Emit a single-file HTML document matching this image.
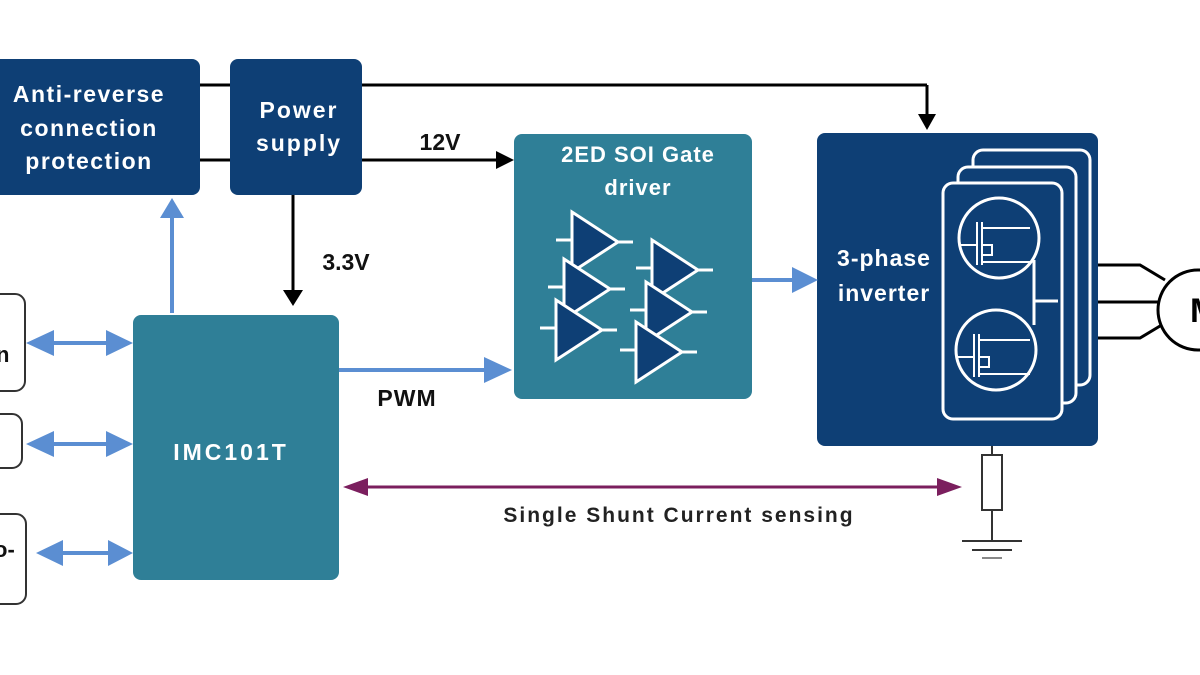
<!DOCTYPE html>
<html><head><meta charset="utf-8"><style>
html,body{margin:0;padding:0;background:#fff;width:1200px;height:675px;overflow:hidden}
svg{display:block}
text{font-family:"Liberation Sans",sans-serif;font-weight:bold}
</style></head><body>
<svg width="1200" height="675" viewBox="0 0 1200 675" xmlns="http://www.w3.org/2000/svg">
<!-- black lines -->
<g stroke="#000" stroke-width="3" fill="none">
<line x1="200" y1="85" x2="232" y2="85"/>
<line x1="362" y1="85" x2="927" y2="85"/>
<line x1="927" y1="85" x2="927" y2="118"/>
<line x1="200" y1="160" x2="232" y2="160"/>
<line x1="362" y1="160" x2="500" y2="160"/>
<line x1="293" y1="195" x2="293" y2="295"/>
</g>
<path d="M918,114 L936,114 L927,130z" fill="#000"/>
<path d="M496,151 L514,160 L496,169z" fill="#000"/>
<path d="M283,290 L303,290 L293,306z" fill="#000"/>
<!-- boxes -->
<rect x="-10" y="59" width="210" height="136" rx="8" fill="#0e3f75"/>
<rect x="230" y="59" width="132" height="136" rx="8" fill="#0e3f75"/>
<text fill="#fff" font-size="23" letter-spacing="1.5" text-anchor="middle"><tspan x="89" y="102">Anti-reverse</tspan><tspan x="89" y="136">connection</tspan><tspan x="89" y="169">protection</tspan></text>
<text fill="#fff" font-size="23" letter-spacing="2" text-anchor="middle"><tspan x="299" y="118">Power</tspan><tspan x="299" y="151">supply</tspan></text>
<text x="440" y="150" font-size="23" text-anchor="middle" fill="#111">12V</text>
<text x="346" y="270" font-size="23" text-anchor="middle" fill="#111">3.3V</text>
<!-- gate driver -->
<rect x="514" y="134" width="238" height="265" rx="8" fill="#2f7f97"/>
<text fill="#fff" font-size="22" letter-spacing="1" text-anchor="middle"><tspan x="638" y="162">2ED SOI Gate</tspan><tspan x="638" y="195">driver</tspan></text>
<g stroke="#fff" stroke-width="3" fill="#0e3f75">
<g id="tri"><line x1="556" y1="240" x2="572" y2="240"/><line x1="616" y1="242" x2="633" y2="242"/><path d="M572,212 L618,242 L572,272z"/></g>
<use href="#tri" x="-8" y="47"/>
<use href="#tri" x="-16" y="88"/>
<use href="#tri" x="80" y="28"/>
<use href="#tri" x="74" y="70"/>
<use href="#tri" x="64" y="110"/>
</g>
<!-- inverter -->
<rect x="817" y="133" width="281" height="313" rx="8" fill="#0e3f75"/>
<text fill="#fff" font-size="23" letter-spacing="1" text-anchor="middle"><tspan x="884" y="266">3-phase</tspan><tspan x="884" y="301">inverter</tspan></text>
<g stroke="#fff" stroke-width="3" fill="#0e3f75">
<rect x="973" y="150" width="117" height="235" rx="10"/>
<rect x="958" y="167" width="118" height="236" rx="10"/>
<rect x="943" y="183" width="119" height="236" rx="10"/>
<circle cx="999" cy="238" r="40"/>
<circle cx="996" cy="350" r="40"/>
<line x1="1034" y1="260" x2="1034" y2="325"/>
<line x1="1034" y1="301" x2="1058" y2="301"/>
</g>
<g stroke="#fff" stroke-width="2" fill="none">
<path d="M960,245 L977,245 M977,222 L977,265 M982,222 L982,265 M982,228 L1030,228 M982,262 L1030,262 M982,245 L992,245 L992,255 L982,255"/>
<path d="M957,357 L974,357 M974,334 L974,377 M979,334 L979,377 M979,340 L1030,340 M979,374 L1030,374 M979,357 L989,357 L989,367 L979,367"/>
</g>
<!-- motor -->
<g stroke="#000" stroke-width="3" fill="none">
<path d="M1098,265 L1140,265 L1165,280"/>
<line x1="1098" y1="302" x2="1160" y2="302"/>
<path d="M1098,338 L1140,338 L1165,323"/>
<circle cx="1198" cy="310" r="40" fill="#fff"/>
</g>
<text x="1190" y="322" font-size="34" font-weight="normal" fill="#000">M</text>
<!-- IMC -->
<rect x="133" y="315" width="206" height="265" rx="8" fill="#2f7f97"/>
<text x="231" y="460" fill="#fff" font-size="23" letter-spacing="3" text-anchor="middle">IMC101T</text>
<!-- light blue arrows -->
<g stroke="#5b8ed2" stroke-width="4" fill="#5b8ed2">
<line x1="172" y1="313" x2="172" y2="215"/>
<line x1="339" y1="370" x2="488" y2="370"/>
<line x1="752" y1="280" x2="795" y2="280"/>
<line x1="40" y1="343" x2="115" y2="343"/>
<line x1="40" y1="444" x2="115" y2="444"/>
<line x1="50" y1="553" x2="115" y2="553"/>
</g>
<g fill="#5b8ed2">
<path d="M160,218 L184,218 L172,198z"/>
<path d="M484,357 L512,370 L484,383z"/>
<path d="M792,267 L818,280 L792,293z"/>
<path d="M54,330 L26,343 L54,356z M106,330 L133,343 L106,356z"/>
<path d="M54,431 L26,444 L54,457z M106,431 L133,444 L106,457z"/>
<path d="M63,540 L36,553 L63,566z M108,540 L133,553 L108,566z"/>
</g>
<text x="407" y="406" font-size="23" letter-spacing="1" text-anchor="middle" fill="#111">PWM</text>
<!-- left boxes -->
<g stroke="#333" stroke-width="2" fill="#fff">
<rect x="-20" y="294" width="45" height="97" rx="10"/>
<rect x="-20" y="414" width="42" height="54" rx="10"/>
<rect x="-20" y="514" width="46" height="90" rx="10"/>
</g>
<text x="-4" y="362" font-size="22" fill="#111">n</text>
<text x="-6" y="557" font-size="22" fill="#111">o-</text>
<!-- purple -->
<line x1="360" y1="487" x2="945" y2="487" stroke="#7b1f5e" stroke-width="3"/>
<path d="M343,487 L368,478 L368,496z M962,487 L937,478 L937,496z" fill="#7b1f5e"/>
<text x="679" y="522" font-size="21" letter-spacing="2" text-anchor="middle" fill="#222">Single Shunt Current sensing</text>
<!-- shunt -->
<g stroke="#333" stroke-width="2" fill="#fff">
<line x1="992" y1="446" x2="992" y2="455"/>
<rect x="982" y="455" width="20" height="55"/>
<line x1="992" y1="510" x2="992" y2="541"/>
<line x1="962" y1="541" x2="1022" y2="541"/>
<line x1="972" y1="550" x2="1012" y2="550"/>
<line x1="982" y1="558" x2="1002" y2="558" stroke="#888"/>
</g>
</svg>
</body></html>
